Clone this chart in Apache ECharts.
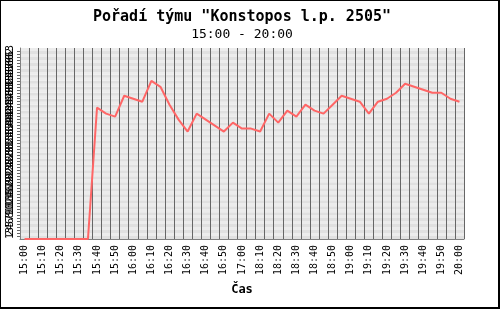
<!DOCTYPE html>
<html><head><meta charset="utf-8">
<script src="https://cdn.jsdelivr.net/npm/echarts@6/dist/echarts.min.js"></script>
<style>
html,body{margin:0;padding:0;background:#fff;}
#c{position:absolute;left:0;top:0;width:500px;height:309px;}
#b{position:absolute;left:0;top:0;width:500px;height:309px;box-sizing:border-box;border:1px solid #000;border-right-width:2px;border-bottom-width:2px;pointer-events:none;}
</style></head>
<body><div id="c"></div><div id="b"></div>
<script>
var categories = ["15:00","15:05","15:10","15:15","15:20","15:25","15:30","15:35","15:40","15:45",
  "15:50","15:55","16:00","16:05","16:10","16:15","16:20","16:25","16:30","16:35",
  "16:40","16:45","16:50","16:55","17:00","18:05","18:10","18:15","18:20","18:25",
  "18:30","18:35","18:40","18:45","18:50","18:55","19:00","19:05","19:10","19:15",
  "19:20","19:25","19:30","19:35","19:40","19:45","19:50","19:55","20:00"];
var rankValues = [0,0,0,0,0,0,0,0,44,42,
  41,48,47,46,53,51,45,40,36,42,
  40,38,36,39,37,37,36,42,39,43,
  41,45,43,42,45,48,47,46,42,46,
  47,49,52,51,50,49,49,47,46];
var yTicks = [];
for (var i = 0; i <= 64; i++) yTicks.push(i);
var titleText = 'Pořadí týmu "Konstopos l.p. 2505"';
var subtitleText = '15:00 - 20:00';
var xName = 'Čas';

var chart = echarts.init(document.getElementById('c'), null, {renderer:'canvas'});
var mono = 'DejaVu Sans Mono';
chart.setOption({
  animation:false,
  backgroundColor:'#fff',
  title:{
    text:titleText, subtext:subtitleText, left:237, textAlign:'center', top:5, itemGap:3,
    textStyle:{fontFamily:mono, fontSize:15, fontWeight:'bold', color:'#000'},
    subtextStyle:{fontFamily:mono, fontSize:13, color:'#000'}
  },
  grid:{left:20, top:48, width:444, height:191, containLabel:false},
  xAxis:{
    type:'category', data:categories, boundaryGap:true,
    name:xName, nameLocation:'middle', nameGap:45,
    nameTextStyle:{fontFamily:mono, fontSize:12, fontWeight:'bold', color:'#000'},
    axisLine:{lineStyle:{color:'#808080'}},
    axisTick:{show:false},
    axisLabel:{interval:1, rotate:90, margin:6, fontFamily:mono, fontSize:10, color:'#000'},
    splitLine:{show:true, interval:0, lineStyle:{color:'#666', width:1}}
  },
  yAxis:{
    type:'value', min:0, max:64, interval:1,
    axisLine:{show:true, lineStyle:{color:'#808080'}},
    axisTick:{show:true, length:3, lineStyle:{color:'#666'}},
    axisLabel:{rotate:90, margin:5, fontFamily:mono, fontSize:10, color:'#000', hideOverlap:false,
      formatter:function(v){return yTicks.indexOf(v)>=0 ? String(v) : '';}},
    splitLine:{show:false},
    splitArea:{show:true, areaStyle:{color:['#e0e0e0','#ececec']}}
  },
  series:[{
    type:'line', data:rankValues, showSymbol:false, symbol:'none',
    lineStyle:{color:'#ff6666', width:2}, itemStyle:{color:'#ff6666'}
  }]
});
</script></body></html>
